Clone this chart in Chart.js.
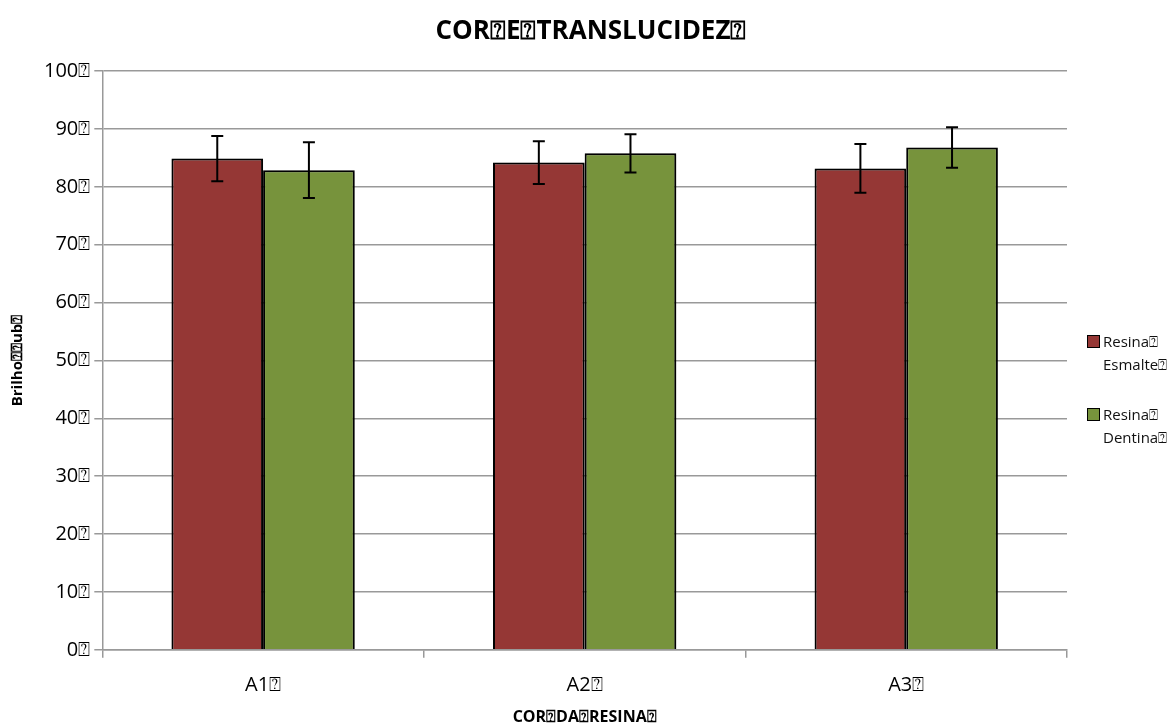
<!DOCTYPE html>
<html>
<head>
<meta charset="utf-8">
<script src="https://cdn.jsdelivr.net/npm/chart.js@4/dist/chart.umd.min.js"></script>
<style>
  body { margin: 0; background: #fff; }
  #wrap { position: relative; width: 1173px; height: 724px; }
  #legend { position: absolute; left: 1087px; top: 330px; font: 15px "Open Sans", sans-serif; color: #111; }
  .item { position: relative; padding-left: 16px; line-height: 23px; margin-bottom: 27px; }
  .box { position: absolute; left: 0; top: 5px; width: 11px; height: 11px; border: 1px solid #000; }
</style>
</head>
<body>
<div id="wrap">
  <canvas id="chart" width="1173" height="724"></canvas>
  <div id="legend"></div>
</div>
<script>
const X = '\u2370'
const categories = ['A1' + X, 'A2' + X, 'A3' + X]
const esmalte = [84.9, 84.2, 83.2]
const esmalteErr = [3.9, 3.7, 4.2]
const dentina = [82.9, 85.8, 86.8]
const dentinaErr = [4.8, 3.3, 3.5]
const seriesNames = [['Resina' + X, 'Esmalte' + X], ['Resina' + X, 'Dentina' + X]]
const colors = ['#953735', '#77933C']

const barShadow = {
  id: 'barShadow',
  beforeDatasetsDraw(chart) {
    const ctx = chart.ctx
    ctx.save()
    ctx.shadowColor = 'rgba(0,0,0,0.3)'
    ctx.shadowBlur = 4
    ctx.shadowOffsetX = 2
    ctx.shadowOffsetY = 1
  },
  afterDatasetsDraw(chart) {
    chart.ctx.restore()
  }
}

const errorBars = {
  id: 'errorBars',
  afterDatasetsDraw(chart) {
    const ctx = chart.ctx
    const y = chart.scales.y
    chart.data.datasets.forEach((ds, i) => {
      const meta = chart.getDatasetMeta(i)
      meta.data.forEach((bar, j) => {
        const top = y.getPixelForValue(ds.data[j] + ds.err[j])
        const bot = y.getPixelForValue(ds.data[j] - ds.err[j])
        ctx.save()
        ctx.strokeStyle = '#000'
        ctx.lineWidth = 2
        ctx.beginPath()
        ctx.moveTo(bar.x, top); ctx.lineTo(bar.x, bot)
        ctx.moveTo(bar.x - 6, top); ctx.lineTo(bar.x + 6, top)
        ctx.moveTo(bar.x - 6, bot); ctx.lineTo(bar.x + 6, bot)
        ctx.stroke()
        ctx.restore()
      })
    })
  }
}

const chart = new Chart(document.getElementById('chart'), {
  type: 'bar',
  data: {
    labels: categories,
    datasets: [
      { label: seriesNames[0].join(' '), data: esmalte, err: esmalteErr, backgroundColor: colors[0], borderColor: '#000', borderWidth: 2 },
      { label: seriesNames[1].join(' '), data: dentina, err: dentinaErr, backgroundColor: colors[1], borderColor: '#000', borderWidth: 2 }
    ]
  },
  options: {
    responsive: false,
    animation: false,
    categoryPercentage: 0.57,
    barPercentage: 1.0,
    layout: { padding: { left: 9, right: 0, top: 6, bottom: 0 } },
    plugins: {
      legend: { display: false },
      tooltip: { enabled: false },
      title: {
        display: true,
        text: 'COR' + X + 'E' + X + 'TRANSLUCIDEZ' + X,
        color: '#000',
        font: { family: 'Open Sans', size: 26, weight: 'bold' },
        padding: { top: 10, bottom: 24 }
      }
    },
    scales: {
      x: {
        grid: { offset: true, drawOnChartArea: false, color: '#999', lineWidth: 1.5, tickLength: 8 },
        border: { color: '#999', width: 1.5 },
        ticks: { color: '#000', font: { family: 'Open Sans', size: 20 }, padding: 15 },
        title: { display: true, text: 'COR' + X + 'DA' + X + 'RESINA' + X, color: '#000', font: { family: 'Open Sans', size: 16, weight: 'bold' }, padding: { top: -4, bottom: -3 } }
      },
      y: {
        min: 0, max: 100,
        ticks: { stepSize: 10, color: '#000', font: { family: 'Open Sans', size: 20 }, padding: 4, callback: v => v + X },
        grid: { color: '#999', lineWidth: 1.5, tickLength: 8 },
        border: { color: '#999', width: 1.5 },
        title: { display: true, text: 'Brilho' + X + X + 'ub' + X, color: '#000', font: { family: 'Open Sans', size: 15, weight: 'bold' }, padding: { top: 0, bottom: 13 } }
      },
      legendSpace: {
        position: 'right',
        display: true,
        ticks: { display: false },
        grid: { display: false },
        border: { display: false },
        afterFit: s => { s.width = 106 }
      }
    }
  },
  plugins: [barShadow, errorBars]
})

const legend = document.getElementById('legend')
seriesNames.forEach((lines, i) => {
  const d = document.createElement('div')
  d.className = 'item'
  d.innerHTML = '<span class="box" style="background:' + colors[i] + '"></span>' + lines.join('<br>')
  legend.appendChild(d)
})
</script>
</body>
</html>
